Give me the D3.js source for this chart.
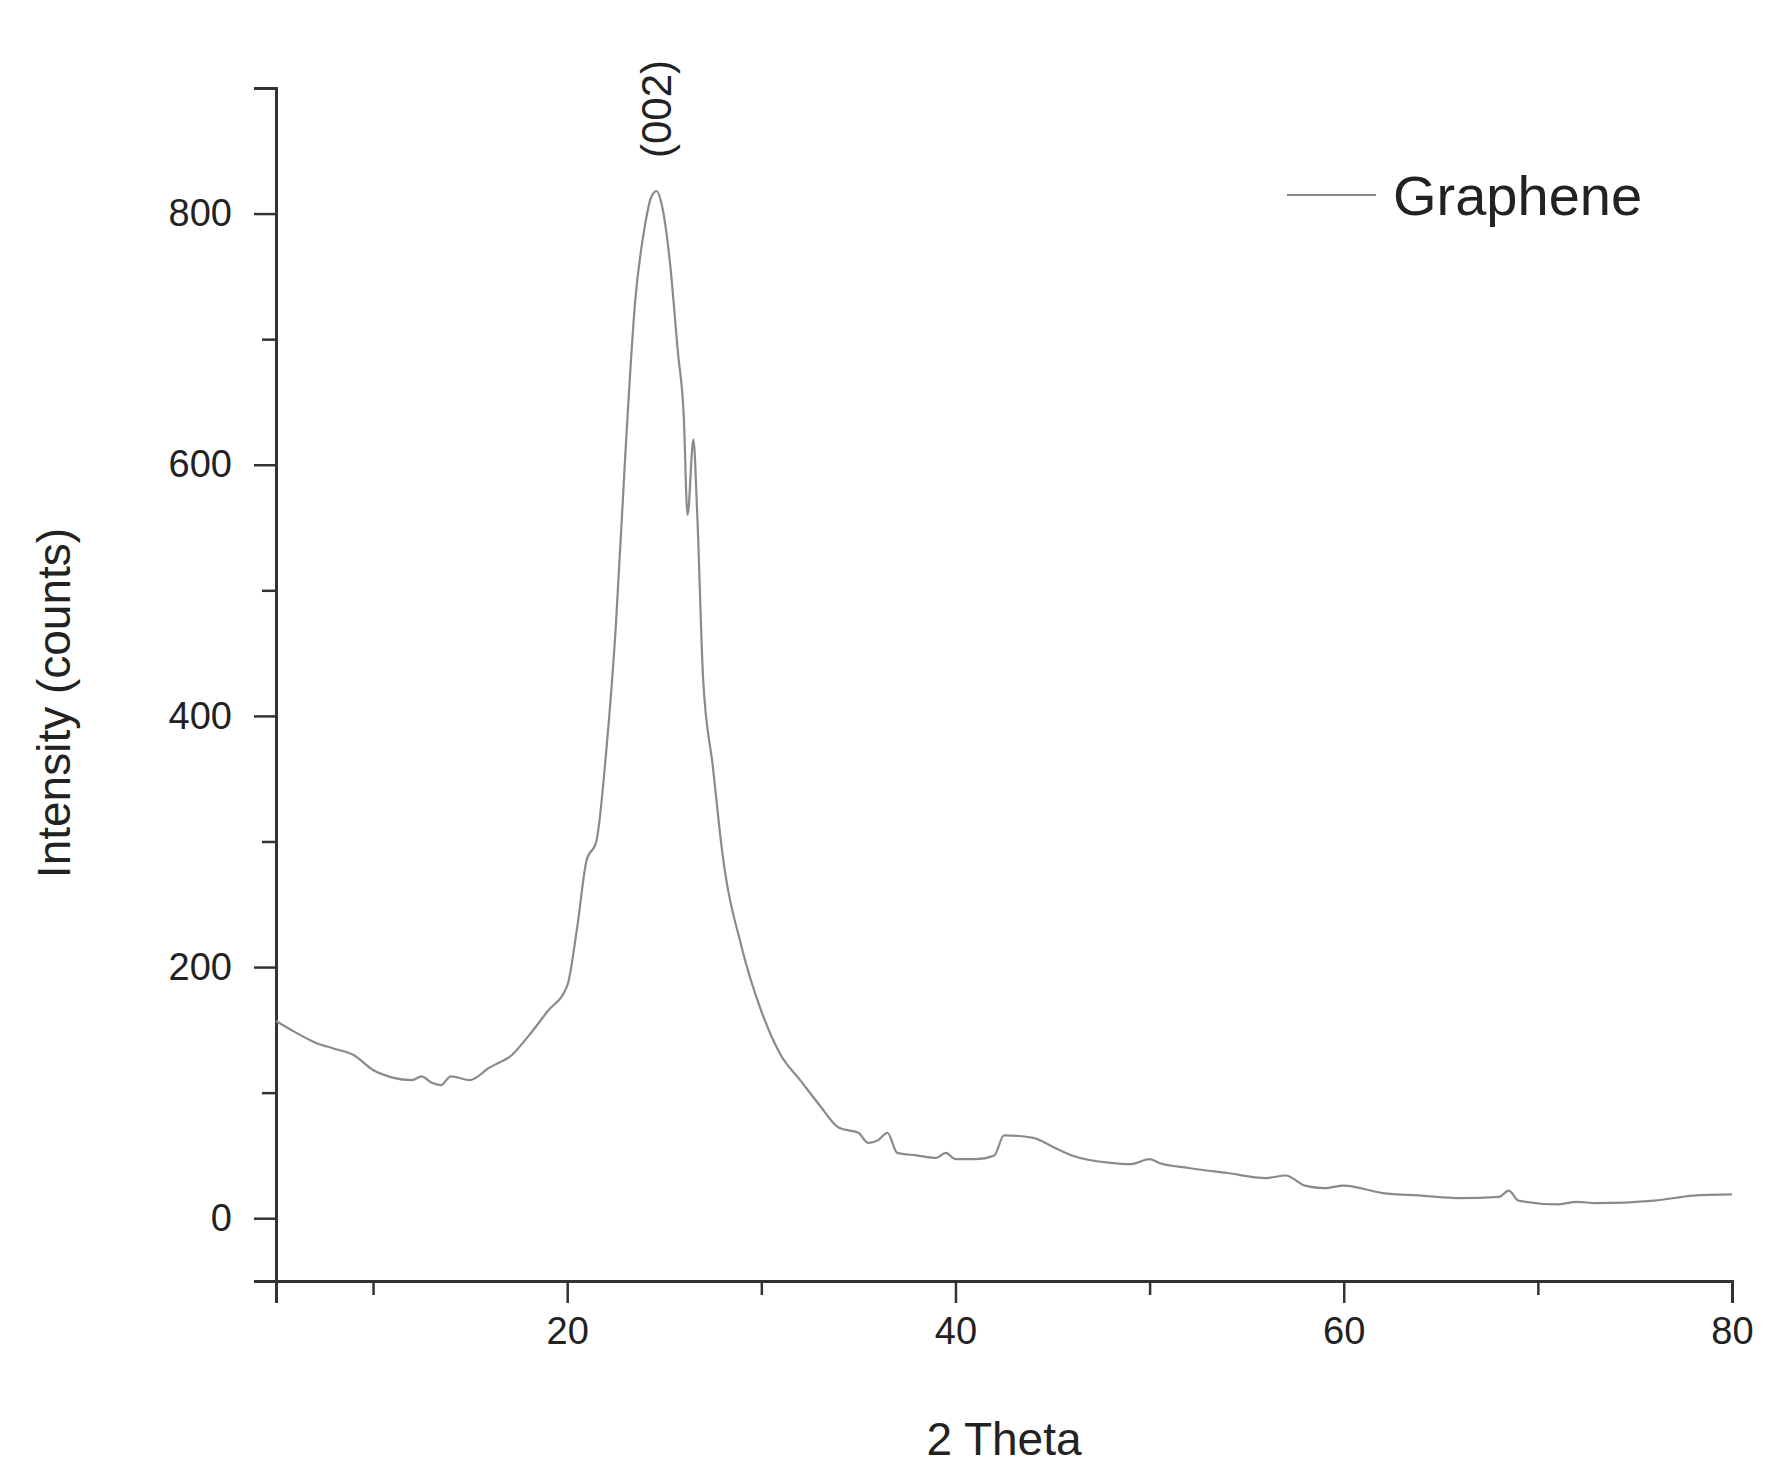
<!DOCTYPE html>
<html><head><meta charset="utf-8">
<script src="https://cdn.jsdelivr.net/npm/d3@7"></script>
<style>body{margin:0;background:#fff}text{font-family:Arial,"Liberation Sans",sans-serif;fill:#222}</style>
</head><body>
<script>
// XRD pattern
const theta = [5,6,7,8,9,10,11,12,12.5,13,13.5,14,15,16,16.5,17,18,19,20,20.5,21,21.5,22,22.5,23,23.5,24,24.3,24.6,24.9,25.3,25.7,26,26.2,26.5,26.7,27,27.5,28,29,30,31,32,33,34,35,35.5,36,36.5,37,38,39,39.5,40,41,42,42.5,44,45,46,48,49,50,50.5,52,54,56,57,58,59,60,62,64,66,68,68.5,69,71,72,73,76,78,80];
const counts = [157,148,140,135,130,118,112,110,113,108,106,113,110,120,124,128,145,165,185,230,285,300,370,470,610,730,790,812,818,805,760,690,640,560,620,560,430,360,290,215,165,130,110,90,72,68,60,62,68,52,50,48,52,47,47,50,66,64,57,50,44,43,47,44,40,36,32,34,26,24,26,20,18,16,17,22,14,11,13,12,14,18,19];
const xMajor = [20,40,60,80];
const yMajor = [0,200,400,600,800];

const W = 1769, H = 1472;
const m = {left: 276, right: 1732, top: 88, bottom: 1281};
const svg = d3.select('body').append('svg').attr('width', W).attr('height', H);

const x = d3.scaleLinear().domain([5, 80]).range([m.left, m.right]);
const y = d3.scaleLinear().domain([-50, 900]).range([m.bottom, m.top]);

// axes: minor ticks in their own groups so the major call does not replace them
svg.append('g').attr('transform', `translate(0,${m.bottom})`)
  .call(d3.axisBottom(x).tickValues([10,30,50,70]).tickSize(14).tickFormat(''));
svg.append('g').attr('transform', `translate(0,${m.bottom})`)
  .call(d3.axisBottom(x).tickValues(xMajor).tickSize(22).tickPadding(14));
svg.append('g').attr('transform', `translate(${m.left},0)`)
  .call(d3.axisLeft(y).tickValues([100,300,500,700,900]).tickSize(14).tickFormat(''));
svg.append('g').attr('transform', `translate(${m.left},0)`)
  .call(d3.axisLeft(y).tickValues(yMajor).tickSize(22).tickPadding(22));
svg.selectAll('.domain').attr('stroke', '#333').attr('stroke-width', 3);
svg.selectAll('.tick line').attr('stroke', '#333').attr('stroke-width', 2.5);
svg.selectAll('.tick text').style('font-size', '38px').style('fill', '#222');

svg.append('path')
  .datum(theta.map((t, i) => [t, counts[i]]))
  .attr('fill', 'none').attr('stroke', '#8a8a8a').attr('stroke-width', 2.2)
  .attr('d', d3.line().curve(d3.curveMonotoneX).x(d => x(d[0])).y(d => y(d[1])));

svg.append('text').attr('x', 1004).attr('y', 1455).attr('text-anchor', 'middle')
  .style('font-size', '46px').text('2 Theta');
svg.append('text').attr('transform', 'translate(70,703) rotate(-90)').attr('text-anchor', 'middle')
  .style('font-size', '46px').text('Intensity (counts)');
svg.append('text').attr('transform', `translate(${x(24.6)+14},158) rotate(-90)`)
  .style('font-size', '42px').text('(002)');

// legend
svg.append('line').attr('x1', 1287).attr('x2', 1376).attr('y1', 195).attr('y2', 195)
  .attr('stroke', '#8a8a8a').attr('stroke-width', 2.2);
svg.append('text').attr('x', 1393).attr('y', 215).style('font-size', '56px').text('Graphene');
</script>
</body></html>
